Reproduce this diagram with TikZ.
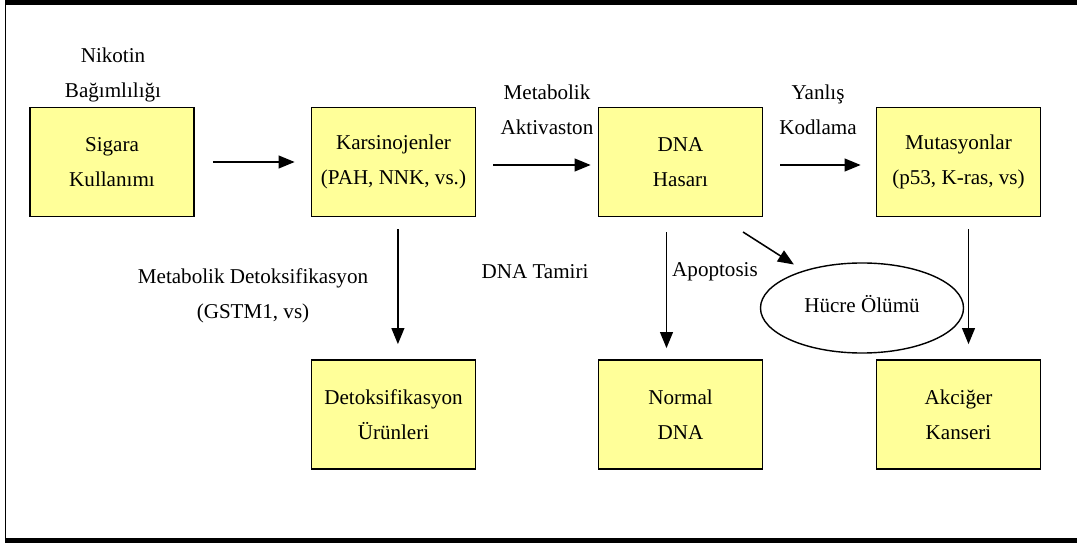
\documentclass[tikz,border=0pt]{standalone}
\usepackage{fontspec}
\setmainfont{Liberation Serif}
\usetikzlibrary{arrows.meta,shapes.geometric}

\definecolor{kutusari}{RGB}{255,255,153}

\tikzset{
  kutu/.style={draw, line width=1.2pt, fill=kutusari, minimum width=4.1cm, minimum height=2.725cm, align=center, inner sep=0pt},
  etiket/.style={align=center, inner sep=0pt},
  ok/.style={-{Triangle[length=0.4cm,width=0.32cm]}, line width=1.1pt, shorten <=0.4cm, shorten >=0.375cm}
}

\begin{document}
\begin{tikzpicture}[x=0.025cm, y=-0.025cm, font=\fontsize{15}{25}\selectfont]
    \useasboundingbox (0,0) rectangle (1077,543);

    % Frame
    \draw[line width=3.5pt] (5,2.5) -- (1077,2.5);
    \draw[line width=1.4pt] (5.5,2) -- (5.5,540);
    \draw[line width=3.5pt] (5,540.5) -- (1077,540.5);

    % Top row
    \node[kutu] (sigara) at (112,162) {Sigara\\Kullanımı};
    \node[kutu] (kars) at (393.5,162) {Karsinojenler\\(PAH, NNK, vs.)};
    \node[kutu] (dna) at (680.5,162) {DNA\\Hasarı};
    \node[kutu] (mut) at (958.5,162) {Mutasyonlar\\(p53, K-ras, vs)};

    % Bottom row
    \node[kutu] (detoks) at (393.5,414.5) {Detoksifikasyon\\Ürünleri};
    \node[kutu] (normal) at (680.5,414.5) {Normal\\DNA};
    \node[kutu] (akciger) at (958.5,414.5) {Akciğer\\Kanseri};

    % Cell death
    \node[ellipse, draw, line width=1pt, minimum width=5.075cm, minimum height=2.25cm, inner sep=0pt] (olum) at (862,308) {\raisebox{0.2cm}{Hücre Ölümü}};

    % Labels
    \node[etiket] (nikotin) at (113,75) {Nikotin\\Bağımlılığı};
    \node[etiket] (aktiv) at (547,110) {Metabolik\\Aktivaston};
    \node[etiket] (yanlis) at (818,110) {Yanlış\\Kodlama};
    \node[etiket] (detokslbl) at (253,296) {Metabolik Detoksifikasyon\\(GSTM1, vs)};
    \node[etiket] (tamir) at (535,272) {DNA Tamiri};
    \node[etiket] (apop) at (715,272) {Apoptosis};

    % Arrows
    \draw[ok, shorten <=0.45cm, shorten >=0.4cm] (sigara) -- (kars);
    \draw[ok, shorten <=0.425cm, shorten >=0.175cm] ([yshift=-0.075cm]kars.east) -- ([yshift=-0.075cm]dna.west);
    \draw[ok, shorten <=0.425cm] ([yshift=-0.075cm]dna.east) -- ([yshift=-0.075cm]mut.west);
    \draw[ok, shorten <=0.3cm] ([xshift=0.11cm]kars.south) -- ([xshift=0.11cm]detoks.north);
    \draw[ok, shorten <=0.375cm, shorten >=0.275cm] ([xshift=-0.35cm]dna.south) -- ([xshift=-0.35cm]normal.north);
    \draw[ok, shorten <=0.3cm] ([xshift=0.25cm]mut.south) -- ([xshift=0.25cm]akciger.north);
    \coordinate (dnaout) at (743,232);
    \draw[ok, shorten <=0cm, shorten >=0.28cm] (dnaout) -- (olum);
\end{tikzpicture}
\end{document}
